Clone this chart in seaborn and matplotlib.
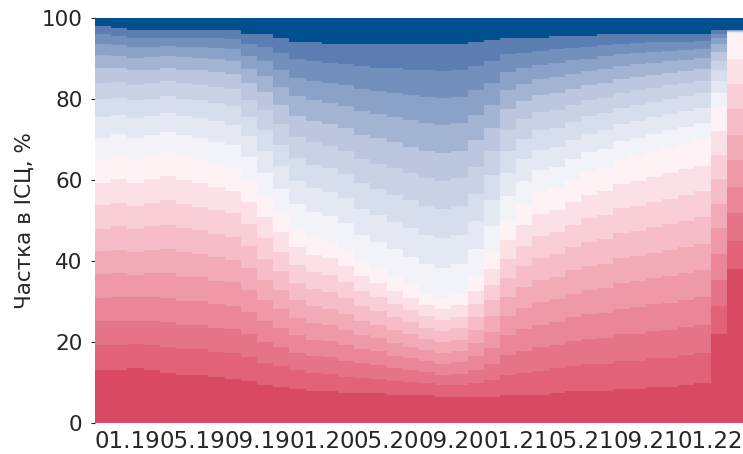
import pandas as pd
import seaborn as sns
import matplotlib.pyplot as plt

# months 11.18 .. 02.22
months = pd.date_range("2018-11-01", periods=40, freq="MS").strftime("%m.%y").tolist()
tick_labels = ["01.19", "05.19", "09.19", "01.20", "05.20",
               "09.20", "01.21", "05.21", "09.21", "01.22"]

# shares in CPI basket, %, bands from bottom (dark red) to top (dark blue)
red_0 = [13, 13, 13.5, 13, 12.5, 12, 12, 11.5, 11, 10.5, 9.5, 9, 8.5, 8, 8, 7.5, 7.5, 7.5, 7, 7,
         7, 6.5, 6.5, 6.5, 6.5, 7, 7, 7, 7.5, 8, 8, 8, 8.5, 8.5, 9, 9, 9.5, 10, 22, 38]
red_1 = [6.2, 6.2, 6.0, 6.2, 6.3, 6.2, 6.2, 6.1, 6.2, 5.8, 5.4, 5.0, 4.5, 4.3, 4.2, 4.0, 3.7, 3.5, 3.3, 3.1,
         2.9, 2.8, 2.9, 3.4, 4.1, 5.0, 5.5, 5.9, 6.0, 6.2, 6.5, 6.6, 6.8, 6.9, 7.0, 7.1, 7.2, 7.3, 6.8, 7.0]
red_2 = [6.0, 6.0, 5.8, 6.0, 6.1, 6.0, 6.0, 5.9, 6.0, 5.6, 5.2, 4.8, 4.4, 4.2, 4.1, 3.9, 3.6, 3.4, 3.2, 3.0,
         2.8, 2.7, 2.8, 3.3, 4.0, 4.9, 5.4, 5.8, 5.8, 6.0, 6.3, 6.4, 6.6, 6.7, 6.8, 6.9, 7.0, 7.0, 6.6, 6.8]
red_3 = [5.8, 6.0, 5.8, 6.0, 6.1, 6.0, 6.0, 5.9, 5.8, 5.5, 5.1, 4.7, 4.3, 4.1, 4.0, 3.8, 3.5, 3.3, 3.1, 2.9,
         2.7, 2.7, 2.8, 3.3, 4.0, 4.8, 5.3, 5.6, 5.7, 5.9, 6.1, 6.2, 6.4, 6.5, 6.6, 6.7, 6.8, 6.8, 6.4, 6.6]
red_4 = [5.8, 5.8, 5.6, 5.8, 6.0, 6.0, 5.8, 5.8, 5.8, 5.5, 5.1, 4.7, 4.3, 4.1, 4.0, 3.8, 3.5, 3.3, 3.1, 2.9,
         2.7, 2.7, 2.8, 3.2, 3.9, 4.8, 5.2, 5.6, 5.6, 5.8, 6.0, 6.1, 6.3, 6.4, 6.4, 6.6, 6.6, 6.7, 6.3, 6.5]
red_5 = [5.6, 5.8, 5.6, 5.8, 6.0, 6.0, 5.8, 5.8, 5.6, 5.4, 5.1, 4.7, 4.3, 4.1, 4.0, 3.9, 3.5, 3.3, 3.2, 3.0,
         2.7, 2.7, 2.8, 3.2, 3.9, 4.7, 5.2, 5.5, 5.6, 5.8, 6.0, 6.1, 6.2, 6.3, 6.3, 6.4, 6.5, 6.5, 6.1, 6.3]
red_6 = [5.6, 5.8, 5.6, 5.8, 6.0, 6.0, 5.8, 5.8, 5.6, 5.4, 5.1, 4.7, 4.3, 4.2, 4.1, 3.9, 3.6, 3.4, 3.2, 3.0,
         2.8, 2.7, 2.8, 3.2, 3.9, 4.7, 5.1, 5.4, 5.5, 5.7, 5.9, 6.0, 6.1, 6.2, 6.3, 6.4, 6.4, 6.5, 6.0, 6.3]
red_7 = [5.8, 5.8, 5.7, 5.8, 6.0, 6.0, 5.8, 5.8, 5.8, 5.4, 5.1, 4.7, 4.4, 4.3, 4.2, 4.0, 3.7, 3.4, 3.3, 3.0,
         2.8, 2.7, 2.8, 3.3, 3.9, 4.7, 5.1, 5.4, 5.5, 5.6, 5.8, 5.9, 6.1, 6.2, 6.2, 6.3, 6.4, 6.4, 6.0, 6.2]
red_8 = [5.6, 5.8, 5.7, 5.8, 6.0, 5.9, 5.8, 5.7, 5.6, 5.4, 5.2, 4.8, 4.5, 4.3, 4.2, 4.1, 3.7, 3.5, 3.3, 3.0,
         2.8, 2.7, 2.9, 3.3, 3.9, 4.7, 5.1, 5.4, 5.4, 5.5, 5.7, 5.9, 6.0, 6.2, 6.2, 6.3, 6.3, 6.4, 5.9, 6.2]
red_9 = [5.6, 5.8, 5.7, 5.8, 6.0, 5.9, 5.8, 5.7, 5.6, 5.5, 5.2, 4.9, 4.5, 4.4, 4.2, 4.1, 3.7, 3.4, 3.3, 3.1,
         2.8, 2.8, 2.9, 3.3, 3.9, 4.7, 5.1, 5.4, 5.4, 5.5, 5.7, 5.8, 6.0, 6.1, 6.2, 6.3, 6.3, 6.4, 5.9, 6.1]
blue_1 = [5.5, 5.3, 5.4, 5.2, 5.0, 5.2, 5.4, 5.5, 5.6, 5.6, 5.8, 5.9, 6.0, 6.1, 6.1, 6.3, 6.5, 6.7, 6.9, 7.1,
          7.3, 7.4, 7.3, 7.0, 6.6, 6.0, 5.7, 5.4, 5.3, 5.1, 4.9, 4.8, 4.6, 4.5, 4.4, 4.3, 4.2, 4.1, 3.4, 0.3]
blue_2 = [5.0, 4.8, 4.9, 4.7, 4.6, 4.7, 4.9, 5.0, 5.1, 5.2, 5.5, 5.6, 5.8, 5.9, 6.0, 6.2, 6.4, 6.6, 6.8, 7.0,
          7.2, 7.3, 7.2, 6.9, 6.4, 5.8, 5.4, 5.1, 5.0, 4.8, 4.6, 4.5, 4.3, 4.2, 4.1, 4.0, 3.9, 3.8, 3.0, 0.2]
blue_3 = [4.5, 4.3, 4.4, 4.2, 4.1, 4.2, 4.4, 4.5, 4.6, 4.8, 5.1, 5.3, 5.6, 5.8, 5.8, 6.0, 6.3, 6.5, 6.7, 6.9,
          7.1, 7.2, 7.1, 6.8, 6.2, 5.5, 5.1, 4.8, 4.7, 4.5, 4.3, 4.2, 4.0, 3.9, 3.8, 3.7, 3.6, 3.5, 2.7, 0.1]
blue_4 = [4.0, 3.8, 3.9, 3.8, 3.7, 3.8, 3.9, 4.0, 4.1, 4.3, 4.8, 5.0, 5.3, 5.5, 5.6, 5.8, 6.1, 6.3, 6.5, 6.7,
          6.9, 7.0, 6.9, 6.6, 6.0, 5.2, 4.8, 4.5, 4.4, 4.2, 4.0, 3.9, 3.7, 3.6, 3.5, 3.4, 3.3, 3.2, 2.4, 0.1]
blue_5 = [3.6, 3.4, 3.5, 3.4, 3.3, 3.4, 3.5, 3.6, 3.7, 4.0, 4.5, 4.8, 5.1, 5.3, 5.4, 5.6, 5.9, 6.2, 6.4, 6.6,
          6.8, 6.9, 6.8, 6.5, 5.8, 5.0, 4.5, 4.2, 4.1, 3.9, 3.7, 3.7, 3.4, 3.3, 3.2, 3.1, 3.0, 2.9, 2.1, 0.1]
blue_6 = [3.2, 3.0, 3.1, 3.0, 2.9, 3.0, 3.1, 3.2, 3.3, 3.6, 4.1, 4.5, 4.9, 5.1, 5.2, 5.4, 5.8, 6.0, 6.3, 6.5,
          6.7, 6.8, 6.7, 6.3, 5.6, 4.8, 4.2, 3.9, 3.9, 3.7, 3.4, 3.4, 3.2, 3.1, 3.0, 2.8, 2.7, 2.6, 1.9, 0.1]
blue_7 = [2.8, 2.7, 2.7, 2.6, 2.5, 2.6, 2.7, 2.8, 2.9, 3.2, 3.7, 4.2, 4.6, 4.9, 5.0, 5.2, 5.6, 5.8, 6.0, 6.3,
          6.6, 6.7, 6.6, 6.1, 5.4, 4.5, 4.0, 3.6, 3.6, 3.4, 3.1, 3.1, 2.9, 2.8, 2.7, 2.5, 2.4, 2.3, 1.5, 0.1]
blue_8 = [2.4, 2.3, 2.2, 2.2, 2.1, 2.2, 2.2, 2.4, 2.5, 2.8, 3.4, 4.0, 4.5, 4.8, 4.8, 5.1, 5.5, 5.7, 6.0, 6.2,
          6.5, 6.6, 6.5, 6.0, 5.3, 4.3, 3.8, 3.4, 3.4, 3.1, 2.9, 2.8, 2.6, 2.5, 2.3, 2.2, 2.1, 2.0, 1.2, 0.0]
blue_9 = [2.0, 1.9, 1.9, 1.9, 1.8, 1.9, 1.9, 2.0, 2.2, 2.5, 3.1, 3.7, 4.2, 4.6, 4.6, 4.9, 5.4, 5.7, 5.9, 6.2,
          6.4, 6.6, 6.4, 5.8, 5.2, 3.9, 3.5, 3.1, 3.1, 2.8, 2.6, 2.6, 2.3, 2.1, 2.0, 2.0, 1.8, 1.6, 0.8, 0.0]
blue_0 = [2, 2.5, 3, 3, 3, 3, 3, 3, 3, 4, 4, 5, 6, 6, 6.5, 6.5, 6.5, 6.5, 6.5, 6.5,
          6.5, 6.5, 6.5, 6, 5.5, 5, 5, 5, 4.5, 4.5, 4.5, 4, 4, 4, 4, 4, 4, 4, 3, 3]

bands = {"r0": red_0, "r1": red_1, "r2": red_2, "r3": red_3, "r4": red_4,
         "r5": red_5, "r6": red_6, "r7": red_7, "r8": red_8, "r9": red_9,
         "b1": blue_1, "b2": blue_2, "b3": blue_3, "b4": blue_4, "b5": blue_5,
         "b6": blue_6, "b7": blue_7, "b8": blue_8, "b9": blue_9, "b0": blue_0}

colors = (["#da4963"] + sns.blend_palette(["#e2627a", "#f3aab7", "#fef2f4"], 9)
          + sns.blend_palette(["#f1f3f9", "#bcc7df", "#5b7db1"], 9) + ["#00508f"])
pal = dict(zip(bands.keys(), colors))

df = pd.DataFrame(bands)
df["m"] = range(len(months))
long = df.melt(id_vars="m", var_name="band", value_name="share")

sns.set_style("white")
fig, ax = plt.subplots(figsize=(7.43, 4.54), dpi=100)
fig.subplots_adjust(left=0.128, right=1.0, bottom=0.068, top=0.96)

# seaborn stacks the first hue level on top, so pass them top -> bottom
sns.histplot(data=long, x="m", weights="share", hue="band",
             hue_order=list(bands.keys())[::-1], palette=pal,
             multiple="stack", discrete=True, shrink=1, element="bars",
             lw=0, alpha=1, legend=False, ax=ax)

ax.set_xlim(-0.5, len(months) - 0.5)
ax.set_ylim(0, 100)
# labels sit on the left edge of each month's bar
ax.set_xticks([months.index(t) - 0.5 for t in tick_labels])
ax.set_xticklabels(tick_labels, fontsize=16.5)
ax.set_yticks([0, 20, 40, 60, 80, 100])
ax.tick_params(axis="y", labelsize=15.5, length=3, left=True, pad=6)
ax.tick_params(axis="x", length=0, pad=5)
ax.set_xlabel("")
ax.set_ylabel("Частка в ІСЦ, %", fontsize=15.5, labelpad=5)
sns.despine(left=True, bottom=True)

fig.savefig("out.png", dpi=100)
